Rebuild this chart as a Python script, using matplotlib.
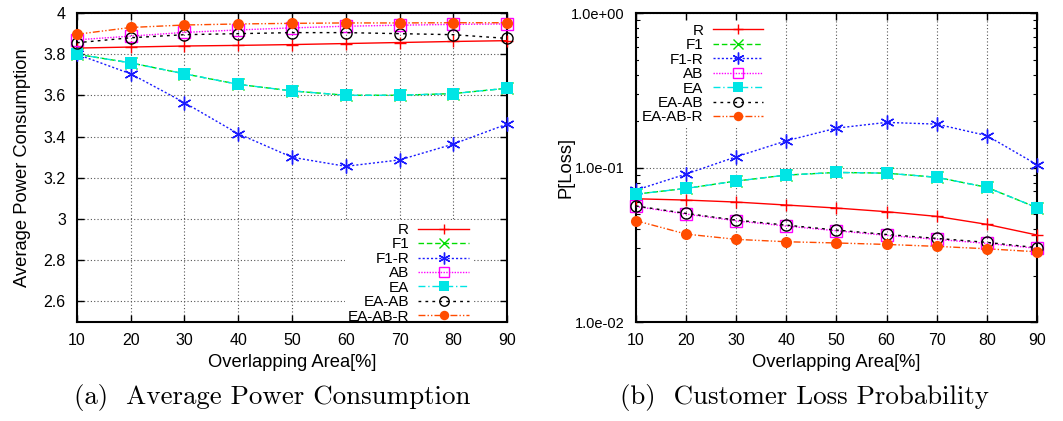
import matplotlib
matplotlib.use("Agg")
import matplotlib.pyplot as plt
from matplotlib.ticker import FixedLocator, LogLocator, NullFormatter

plt.rcParams['font.family'] = ['Liberation Sans', 'DejaVu Sans']

x = [10, 20, 30, 40, 50, 60, 70, 80, 90]
labels = ['R', 'F1', 'F1-R', 'AB', 'EA', 'EA-AB', 'EA-AB-R']

# (a) Average power consumption
pw_R = [3.830, 3.835, 3.840, 3.843, 3.847, 3.852, 3.857, 3.862, 3.866]
pw_F1 = [3.800, 3.758, 3.705, 3.654, 3.622, 3.601, 3.601, 3.609, 3.635]
pw_F1R = [3.800, 3.705, 3.565, 3.414, 3.300, 3.256, 3.287, 3.364, 3.461]
pw_AB = [3.870, 3.888, 3.906, 3.918, 3.928, 3.936, 3.941, 3.945, 3.947]
pw_EA = [3.800, 3.758, 3.705, 3.654, 3.622, 3.601, 3.601, 3.609, 3.635]
pw_EAAB = [3.856, 3.880, 3.895, 3.900, 3.905, 3.905, 3.900, 3.895, 3.877]
pw_EAABR = [3.897, 3.930, 3.942, 3.947, 3.950, 3.952, 3.952, 3.953, 3.953]

# (b) Customer loss probability
pl_R = [0.0628, 0.0616, 0.0598, 0.0572, 0.0547, 0.0518, 0.0483, 0.0429, 0.0366]
pl_F1 = [0.0673, 0.0733, 0.0818, 0.0894, 0.0930, 0.0920, 0.0865, 0.0745, 0.0550]
pl_F1R = [0.0715, 0.0908, 0.1175, 0.1490, 0.1800, 0.1960, 0.1910, 0.1610, 0.1045]
pl_AB = [0.0560, 0.0500, 0.0452, 0.0418, 0.0390, 0.0364, 0.0343, 0.0323, 0.0300]
pl_EA = [0.0673, 0.0733, 0.0818, 0.0894, 0.0930, 0.0920, 0.0865, 0.0745, 0.0550]
pl_EAAB = [0.0564, 0.0505, 0.0457, 0.0424, 0.0394, 0.0369, 0.0348, 0.0328, 0.0303]
pl_EAABR = [0.0453, 0.0371, 0.0343, 0.0331, 0.0325, 0.0318, 0.0309, 0.0298, 0.0285]

styles = [
    dict(color='#ff0000', ls='-', marker='+', ms=9, mew=1.0),
    dict(color='#00dd00', ls=(0, (4, 2)), marker='x', ms=8, mew=1.0),
    dict(color='#1a1aff', ls=(0, (1.5, 1.5)), marker=(6, 2, 0), ms=10, mew=1.0),
    dict(color='#ff00ff', ls=(0, (1, 1)), marker='s', ms=8, mfc='none', mew=1.0),
    dict(color='#00e5e5', ls=(0, (5, 2, 1, 2)), marker='s', ms=9, mew=0),
    dict(color='#000000', ls=(0, (2, 3)), marker='o', ms=8, mfc='none', mew=1.0),
    dict(color='#ff4c00', ls=(0, (5, 1.5, 1, 1.5, 1, 1.5)), marker='o', ms=8, mew=0),
]

fig = plt.figure(figsize=(10.63, 4.21), dpi=100)
ax1 = fig.add_axes([0.0724, 0.235, 0.4046, 0.734])
ax2 = fig.add_axes([0.5983, 0.235, 0.3772, 0.734])

pw_series = [pw_R, pw_F1, pw_F1R, pw_AB, pw_EA, pw_EAAB, pw_EAABR]
pl_series = [pl_R, pl_F1, pl_F1R, pl_AB, pl_EA, pl_EAAB, pl_EAABR]

for lab, ys, st in zip(labels, pw_series, styles):
    ax1.plot(x, ys, label=lab, lw=1.0, clip_on=False, zorder=3, **st)
for lab, ys, st in zip(labels, pl_series, styles):
    ax2.plot(x, ys, label=lab, lw=1.0, clip_on=False, zorder=3, **st)

for ax in (ax1, ax2):
    ax.set_xlim(10, 90)
    ax.set_xticks(x)
    ax.set_xticklabels([str(v) for v in x])
    ax.tick_params(direction='in', top=True, right=True, labelsize=11.5, length=5, width=1, pad=8)
    ax.tick_params(which='minor', direction='in', right=True, left=True, length=3, width=0.8)
    ax.grid(True, which='major', ls=(0, (1, 2)), color='#555555', lw=0.8)
    for sp in ax.spines.values():
        sp.set_linewidth(1.5)
    ax.set_xlabel('Overlapping Area[%]', fontsize=13.2, labelpad=4)

ax1.set_ylim(2.5, 4.0)
yt = [2.6, 2.8, 3.0, 3.2, 3.4, 3.6, 3.8, 4.0]
ax1.set_yticks(yt)
ax1.set_yticklabels(['2.6', '2.8', '3', '3.2', '3.4', '3.6', '3.8', '4'])
ax1.set_ylabel('Average Power Consumption', fontsize=13.2, labelpad=9)

ax2.set_yscale('log')
ax2.set_ylim(0.01, 1.0)
ax2.yaxis.set_major_locator(FixedLocator([0.01, 0.1, 1.0]))
ax2.set_yticklabels(['1.0e-02', '1.0e-01', '1.0e+00'])
ax2.yaxis.set_minor_locator(LogLocator(base=10, subs=range(2, 10)))
ax2.yaxis.set_minor_formatter(NullFormatter())
ax2.tick_params(axis='y', labelsize=10.5)
ax2.set_ylabel('P[Loss]', fontsize=13.2, labelpad=-2)

leg_kw = dict(frameon=True, markerfirst=False, fontsize=11, labelspacing=0.03,
              handlelength=3.3, handletextpad=0.6, borderpad=0.2, fancybox=False,
              markerscale=0.85)
l1 = ax1.legend(loc='lower right', bbox_to_anchor=(0.936, -0.04), **leg_kw)
l2 = ax2.legend(loc='upper left', bbox_to_anchor=(-0.012, 1.0), **leg_kw)
for lg in (l1, l2):
    lg.get_frame().set_edgecolor('none')
    lg.get_frame().set_facecolor('white')
    lg.get_frame().set_alpha(1.0)
    for t in lg.get_texts():
        t.set_ha('right')
l1.set_zorder(2)

cap_font = ['cmr10', 'DejaVu Serif']
fig.text(0.256, 0.057, '(a)  Average Power Consumption', ha='center', va='center',
         fontsize=19.4, family=cap_font)
fig.text(0.757, 0.057, '(b)  Customer Loss Probability', ha='center', va='center',
         fontsize=19.4, family=cap_font)

fig.savefig('out.png', dpi=100)
